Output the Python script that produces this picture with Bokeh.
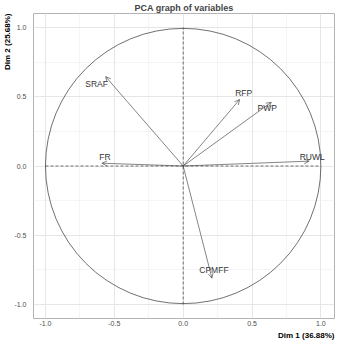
from bokeh.plotting import figure
from bokeh.models import (Range1d, Arrow, OpenHead, ColumnDataSource,
                          FixedTicker, LabelSet, Title, PrintfTickFormatter)
from bokeh.embed import file_html
from bokeh.resources import INLINE
from bokeh.core.properties import value

# ---- data ----
variables = ["SRAF", "FR", "RFP", "PWP", "RUWL", "CPMFF"]
dim1 = [-0.563, -0.59, 0.41, 0.64, 0.915, 0.209]
dim2 = [0.645, 0.02, 0.48, 0.46, 0.035, -0.81]
x_ticks = [-1.0, -0.5, 0.0, 0.5, 1.0]
y_ticks = [-1.0, -0.5, 0.0, 0.5, 1.0]
title = "PCA graph of variables"
x_label = "Dim 1 (36.88%)"
y_label = "Dim 2 (25.68%)"

# label pixel offsets (styling)
lab_dx = [-9, 3, 4, -4, 3, 2]
lab_dy = [-7, 6, 7, -6, 4, 8]

FONT = "Liberation Sans"

p = figure(width=338, height=341, output_backend="svg", toolbar_location=None,
           x_range=Range1d(-1.087, 1.099), y_range=Range1d(-1.101, 1.101),
           min_border_left=29, min_border_right=4, min_border_top=13,
           min_border_bottom=23, title=title)

p.title.text_font = FONT
p.title.text_font_size = "9px"
p.title.text_font_style = "bold"
p.title.align = "center"
p.title.offset = 0
p.title.standoff = 1

p.outline_line_color = "#b3b3b3"
p.outline_line_width = 1
p.background_fill_color = "white"
p.border_fill_color = "white"

for ax, ticks in ((p.xaxis[0], x_ticks), (p.yaxis[0], y_ticks)):
    ax.ticker = FixedTicker(ticks=ticks, minor_ticks=[t + 0.25 for t in ticks[:-1]])
    ax.formatter = PrintfTickFormatter(format="%.1f")
    ax.axis_line_color = None
    ax.major_tick_line_color = None
    ax.minor_tick_line_color = None
    ax.major_tick_out = 0
    ax.major_tick_in = 0
    ax.minor_tick_out = 0
    ax.minor_tick_in = 0
    ax.major_label_text_font = FONT
    ax.major_label_text_font_size = "7px"
    ax.major_label_text_color = "#4d4d4d"

p.xaxis[0].major_label_standoff = 2
p.yaxis[0].major_label_standoff = 7
p.yaxis[0].major_label_orientation = "horizontal"

for txt, side in ((x_label, "below"), (y_label, "left")):
    t = Title(text=txt, align="right", text_font=FONT, text_font_size="8px",
              text_font_style="bold", text_color="black", offset=0, standoff=0)
    p.add_layout(t, side)

for g in (p.xgrid[0], p.ygrid[0]):
    g.grid_line_color = "#e6e6e6"
    g.grid_line_width = 1
    g.minor_grid_line_color = "#efefef"
    g.minor_grid_line_width = 0.6

# unit circle
p.circle(x=[0], y=[0], radius=1, fill_color=None, line_color="#333333", line_width=0.7)

# dashed reference lines across the circle
lo, hi = min(x_ticks), max(x_ticks)
p.segment(x0=[lo, 0], y0=[0, lo], x1=[hi, 0], y1=[0, hi],
          line_color="#333333", line_dash="3 2", line_width=0.7)

src = ColumnDataSource(dict(x0=[0] * len(variables), y0=[0] * len(variables),
                            x=dim1, y=dim2, name=variables,
                            dx=lab_dx, dy=lab_dy))

p.add_layout(Arrow(end=OpenHead(size=5, line_width=0.6, line_color="#333333"),
                   x_start="x0", y_start="y0", x_end="x", y_end="y",
                   line_color="#333333", line_width=0.6, source=src))

p.add_layout(LabelSet(x="x", y="y", text="name", source=src,
                      x_offset="dx", y_offset="dy",
                      text_font=value(FONT), text_font_size="8.5px",
                      text_color="#333333", text_align="center",
                      text_baseline="middle"))

open("out.html", "w").write(file_html(p, INLINE))
